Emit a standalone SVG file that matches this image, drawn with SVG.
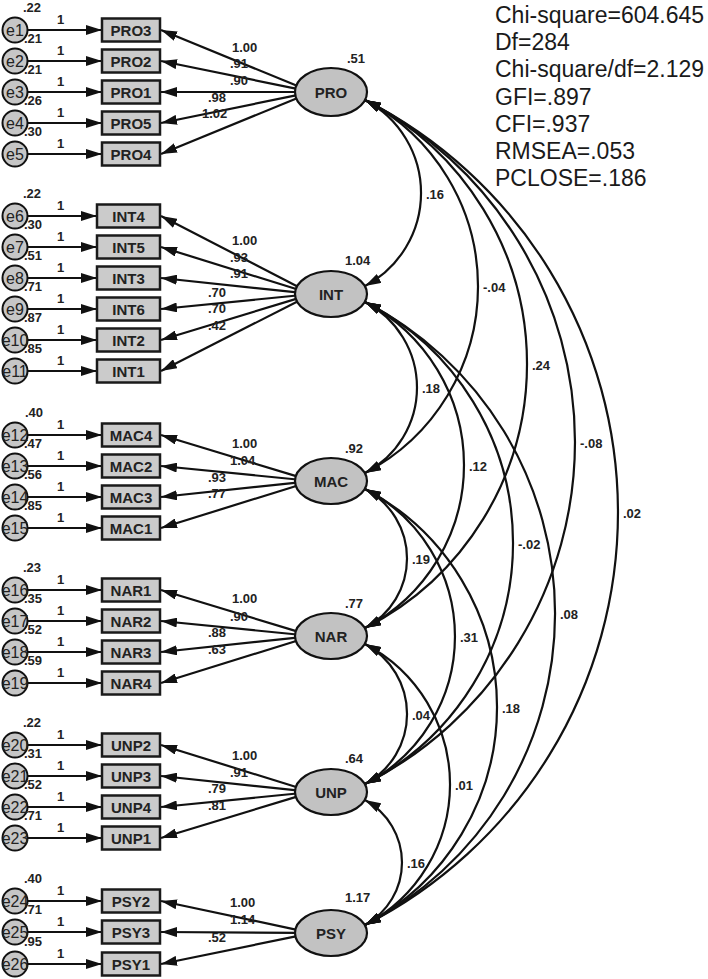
<svg xmlns="http://www.w3.org/2000/svg" width="708" height="979" viewBox="0 0 708 979">
<style>
.bg{fill:#fff}
.lat ellipse{fill:#c2c2c2;stroke:#111;stroke-width:2.2}
.obs rect{fill:#cbcbcb;stroke:#1a1a1a;stroke-width:2.5}
.err circle{fill:#c6c6c6;stroke:#111;stroke-width:2}
.nm{font-family:"Liberation Sans",Arial,sans-serif;font-size:15px;font-weight:bold;fill:#222;text-anchor:middle}
.en{font-family:"Liberation Sans",Arial,sans-serif;font-size:16px;fill:#222;text-anchor:middle}
.n{font-family:"Liberation Sans",Arial,sans-serif;font-size:13px;font-weight:bold;fill:#222}
.st{font-family:"Liberation Sans",Arial,sans-serif;font-size:23px;fill:#1a1a1a}
.c path,.c line{fill:none;stroke:#111;stroke-width:2.2}
.one{marker-end:url(#ah)}
.two{marker-start:url(#ah);marker-end:url(#ah)}
</style>
<defs>
<marker id="ah" viewBox="0 0 16 10" refX="16" refY="5" markerWidth="16" markerHeight="10" markerUnits="userSpaceOnUse" orient="auto-start-reverse"><path d="M0,0 L16,5 L0,10 z" fill="#111"/></marker>
</defs>
<rect class="bg" x="0" y="0" width="708" height="979"/>

<g id="connectors" class="c">
<!-- error arrows -->
<line class="one" x1="28" y1="30" x2="102" y2="30"/>
<line class="one" x1="28" y1="61" x2="102" y2="61"/>
<line class="one" x1="28" y1="92" x2="102" y2="92"/>
<line class="one" x1="28" y1="123" x2="102" y2="123"/>
<line class="one" x1="28" y1="154" x2="102" y2="154"/>
<line class="one" x1="28" y1="216" x2="97" y2="216"/>
<line class="one" x1="28" y1="247" x2="97" y2="247"/>
<line class="one" x1="28" y1="278" x2="97" y2="278"/>
<line class="one" x1="28" y1="309" x2="97" y2="309"/>
<line class="one" x1="28" y1="340" x2="97" y2="340"/>
<line class="one" x1="28" y1="371" x2="97" y2="371"/>
<line class="one" x1="28" y1="435" x2="102" y2="435"/>
<line class="one" x1="28" y1="466" x2="102" y2="466"/>
<line class="one" x1="28" y1="497" x2="102" y2="497"/>
<line class="one" x1="28" y1="528" x2="102" y2="528"/>
<line class="one" x1="28" y1="590" x2="102" y2="590"/>
<line class="one" x1="28" y1="621" x2="102" y2="621"/>
<line class="one" x1="28" y1="652" x2="102" y2="652"/>
<line class="one" x1="28" y1="683" x2="102" y2="683"/>
<line class="one" x1="28" y1="745" x2="102" y2="745"/>
<line class="one" x1="28" y1="776" x2="102" y2="776"/>
<line class="one" x1="28" y1="807" x2="102" y2="807"/>
<line class="one" x1="28" y1="838" x2="102" y2="838"/>
<line class="one" x1="28" y1="901" x2="102" y2="901"/>
<line class="one" x1="28" y1="932" x2="102" y2="932"/>
<line class="one" x1="28" y1="964" x2="102" y2="964"/>
<!-- loadings -->
<line class="one" x1="297" y1="85.8" x2="161" y2="30"/>
<line class="one" x1="297" y1="88.9" x2="161" y2="61"/>
<line class="one" x1="297" y1="92" x2="161" y2="92"/>
<line class="one" x1="297" y1="95.1" x2="161" y2="123"/>
<line class="one" x1="297" y1="98.2" x2="161" y2="154"/>
<line class="one" x1="297" y1="286.2" x2="161" y2="216"/>
<line class="one" x1="297" y1="289.3" x2="161" y2="247"/>
<line class="one" x1="297" y1="292.4" x2="161" y2="278"/>
<line class="one" x1="297" y1="295.5" x2="161" y2="309"/>
<line class="one" x1="297" y1="298.6" x2="161" y2="340"/>
<line class="one" x1="297" y1="301.7" x2="161" y2="371"/>
<line class="one" x1="297" y1="476.4" x2="161" y2="435"/>
<line class="one" x1="297" y1="479.5" x2="161" y2="466"/>
<line class="one" x1="297" y1="482.6" x2="161" y2="497"/>
<line class="one" x1="297" y1="485.7" x2="161" y2="528"/>
<line class="one" x1="297" y1="631.4" x2="161" y2="590"/>
<line class="one" x1="297" y1="634.5" x2="161" y2="621"/>
<line class="one" x1="297" y1="637.6" x2="161" y2="652"/>
<line class="one" x1="297" y1="640.7" x2="161" y2="683"/>
<line class="one" x1="297" y1="787.3" x2="161" y2="745"/>
<line class="one" x1="297" y1="790.4" x2="161" y2="776"/>
<line class="one" x1="297" y1="793.5" x2="161" y2="807"/>
<line class="one" x1="297" y1="796.6" x2="161" y2="838"/>
<line class="one" x1="297" y1="929.8" x2="161" y2="901"/>
<line class="one" x1="297" y1="932.9" x2="161" y2="932"/>
<line class="one" x1="297" y1="936.1" x2="161" y2="964"/>
<!-- covariances -->
<path class="two" d="M365,100 A105.2,105.2 0 0 1 365,286"/>
<path class="two" d="M365,100 A210.4,210.4 0 0 1 365,473"/>
<path class="two" d="M365,100 A296.1,296.1 0 0 1 365,628"/>
<path class="two" d="M365,100 A383.5,383.5 0 0 1 365,784"/>
<path class="two" d="M365,100 A462.8,462.8 0 0 1 365,925"/>
<path class="two" d="M365,302 A96.3,96.3 0 0 1 365,473"/>
<path class="two" d="M365,302 A183.7,183.7 0 0 1 365,628"/>
<path class="two" d="M365,302 A270.2,270.2 0 0 1 365,784"/>
<path class="two" d="M365,302 A350.3,350.3 0 0 1 365,925"/>
<path class="two" d="M365,489 A78.5,78.5 0 0 1 365,628"/>
<path class="two" d="M365,489 A165.9,165.9 0 0 1 365,784"/>
<path class="two" d="M365,489 A246,246 0 0 1 365,925"/>
<path class="two" d="M365,644 A79.3,79.3 0 0 1 365,784"/>
<path class="two" d="M365,644 A158.6,158.6 0 0 1 365,925"/>
<path class="two" d="M365,800 A71.3,71.3 0 0 1 365,925"/>
</g>

<g id="connector-labels" class="n">
<text x="57" y="24">1</text><text x="57" y="55">1</text><text x="57" y="86">1</text><text x="57" y="117">1</text><text x="57" y="148">1</text>
<text x="57" y="210">1</text><text x="57" y="241">1</text><text x="57" y="272">1</text><text x="57" y="303">1</text><text x="57" y="334">1</text><text x="57" y="365">1</text>
<text x="57" y="429">1</text><text x="57" y="460">1</text><text x="57" y="491">1</text><text x="57" y="522">1</text>
<text x="57" y="584">1</text><text x="57" y="615">1</text><text x="57" y="646">1</text><text x="57" y="677">1</text>
<text x="57" y="739">1</text><text x="57" y="770">1</text><text x="57" y="801">1</text><text x="57" y="832">1</text>
<text x="57" y="895">1</text><text x="57" y="926">1</text><text x="57" y="958">1</text>
<text x="232" y="52">1.00</text><text x="230" y="68">.91</text><text x="230" y="85">.90</text><text x="208" y="102">.98</text><text x="202" y="118">1.02</text>
<text x="232" y="245">1.00</text><text x="230" y="262">.93</text><text x="230" y="278">.91</text><text x="208" y="297">.70</text><text x="208" y="313">.70</text><text x="208" y="330">.42</text>
<text x="232" y="448">1.00</text><text x="230" y="465">1.04</text><text x="208" y="482">.93</text><text x="208" y="498">.77</text>
<text x="232" y="603">1.00</text><text x="230" y="621">.90</text><text x="208" y="637">.88</text><text x="208" y="654">.63</text>
<text x="232" y="760">1.00</text><text x="230" y="777">.91</text><text x="208" y="793">.79</text><text x="208" y="810">.81</text>
<text x="230" y="907">1.00</text><text x="230" y="924">1.14</text><text x="208" y="942">.52</text>
<text x="426" y="199">.16</text><text x="483" y="292">-.04</text><text x="532" y="370">.24</text><text x="580" y="448">-.08</text><text x="623" y="518">.02</text>
<text x="422" y="393">.18</text><text x="469" y="471">.12</text><text x="518" y="549">-.02</text><text x="560" y="619">.08</text>
<text x="412" y="564">.19</text><text x="460" y="642">.31</text><text x="502" y="713">.18</text>
<text x="412" y="720">.04</text><text x="455" y="790">.01</text>
<text x="407" y="868">.16</text>
</g>

<g id="PRO3" class="obs"><rect x="102" y="18.5" width="58" height="23"/><text class="nm" x="131" y="35.5">PRO3</text></g>
<g id="PRO2" class="obs"><rect x="102" y="49.5" width="58" height="23"/><text class="nm" x="131" y="66.5">PRO2</text></g>
<g id="PRO1" class="obs"><rect x="102" y="80.5" width="58" height="23"/><text class="nm" x="131" y="97.5">PRO1</text></g>
<g id="PRO5" class="obs"><rect x="102" y="111.5" width="58" height="23"/><text class="nm" x="131" y="128.5">PRO5</text></g>
<g id="PRO4" class="obs"><rect x="102" y="142.5" width="58" height="23"/><text class="nm" x="131" y="159.5">PRO4</text></g>
<g id="INT4" class="obs"><rect x="97" y="204.5" width="63" height="23"/><text class="nm" x="128.5" y="221.5">INT4</text></g>
<g id="INT5" class="obs"><rect x="97" y="235.5" width="63" height="23"/><text class="nm" x="128.5" y="252.5">INT5</text></g>
<g id="INT3" class="obs"><rect x="97" y="266.5" width="63" height="23"/><text class="nm" x="128.5" y="283.5">INT3</text></g>
<g id="INT6" class="obs"><rect x="97" y="297.5" width="63" height="23"/><text class="nm" x="128.5" y="314.5">INT6</text></g>
<g id="INT2" class="obs"><rect x="97" y="328.5" width="63" height="23"/><text class="nm" x="128.5" y="345.5">INT2</text></g>
<g id="INT1" class="obs"><rect x="97" y="359.5" width="63" height="23"/><text class="nm" x="128.5" y="376.5">INT1</text></g>
<g id="MAC4" class="obs"><rect x="102" y="423.5" width="58" height="23"/><text class="nm" x="131" y="440.5">MAC4</text></g>
<g id="MAC2" class="obs"><rect x="102" y="454.5" width="58" height="23"/><text class="nm" x="131" y="471.5">MAC2</text></g>
<g id="MAC3" class="obs"><rect x="102" y="485.5" width="58" height="23"/><text class="nm" x="131" y="502.5">MAC3</text></g>
<g id="MAC1" class="obs"><rect x="102" y="516.5" width="58" height="23"/><text class="nm" x="131" y="533.5">MAC1</text></g>
<g id="NAR1" class="obs"><rect x="102" y="578.5" width="58" height="23"/><text class="nm" x="131" y="595.5">NAR1</text></g>
<g id="NAR2" class="obs"><rect x="102" y="609.5" width="58" height="23"/><text class="nm" x="131" y="626.5">NAR2</text></g>
<g id="NAR3" class="obs"><rect x="102" y="640.5" width="58" height="23"/><text class="nm" x="131" y="657.5">NAR3</text></g>
<g id="NAR4" class="obs"><rect x="102" y="671.5" width="58" height="23"/><text class="nm" x="131" y="688.5">NAR4</text></g>
<g id="UNP2" class="obs"><rect x="102" y="733.5" width="58" height="23"/><text class="nm" x="131" y="750.5">UNP2</text></g>
<g id="UNP3" class="obs"><rect x="102" y="764.5" width="58" height="23"/><text class="nm" x="131" y="781.5">UNP3</text></g>
<g id="UNP4" class="obs"><rect x="102" y="795.5" width="58" height="23"/><text class="nm" x="131" y="812.5">UNP4</text></g>
<g id="UNP1" class="obs"><rect x="102" y="826.5" width="58" height="23"/><text class="nm" x="131" y="843.5">UNP1</text></g>
<g id="PSY2" class="obs"><rect x="102" y="889.5" width="58" height="23"/><text class="nm" x="131" y="906.5">PSY2</text></g>
<g id="PSY3" class="obs"><rect x="102" y="920.5" width="58" height="23"/><text class="nm" x="131" y="937.5">PSY3</text></g>
<g id="PSY1" class="obs"><rect x="102" y="952.5" width="58" height="23"/><text class="nm" x="131" y="969.5">PSY1</text></g>

<g id="PRO" class="lat"><ellipse cx="331" cy="92" rx="36" ry="24"/><text class="nm" x="331" y="97.5">PRO</text><text class="n" x="347" y="63">.51</text></g>
<g id="INT" class="lat"><ellipse cx="331" cy="294" rx="36" ry="23"/><text class="nm" x="331" y="299.5">INT</text><text class="n" x="345" y="265">1.04</text></g>
<g id="MAC" class="lat"><ellipse cx="331" cy="481" rx="36" ry="23"/><text class="nm" x="331" y="486.5">MAC</text><text class="n" x="345" y="453">.92</text></g>
<g id="NAR" class="lat"><ellipse cx="331" cy="636" rx="36" ry="23"/><text class="nm" x="331" y="641.5">NAR</text><text class="n" x="345" y="608">.77</text></g>
<g id="UNP" class="lat"><ellipse cx="331" cy="792" rx="36" ry="23"/><text class="nm" x="331" y="797.5">UNP</text><text class="n" x="345" y="763">.64</text></g>
<g id="PSY" class="lat"><ellipse cx="331" cy="933" rx="36" ry="23"/><text class="nm" x="331" y="938.5">PSY</text><text class="n" x="345" y="902">1.17</text></g>

<g id="e1" class="err"><circle cx="15" cy="30" r="12.5"/><text class="en" x="15" y="36">e1</text><text class="n" x="23" y="12">.22</text></g>
<g id="e2" class="err"><circle cx="15" cy="61" r="12.5"/><text class="en" x="15" y="67">e2</text><text class="n" x="24" y="43">.21</text></g>
<g id="e3" class="err"><circle cx="15" cy="92" r="12.5"/><text class="en" x="15" y="98">e3</text><text class="n" x="24" y="74">.21</text></g>
<g id="e4" class="err"><circle cx="15" cy="123" r="12.5"/><text class="en" x="15" y="129">e4</text><text class="n" x="24" y="105">.26</text></g>
<g id="e5" class="err"><circle cx="15" cy="154" r="12.5"/><text class="en" x="15" y="160">e5</text><text class="n" x="24" y="136">.30</text></g>
<g id="e6" class="err"><circle cx="15" cy="216" r="12.5"/><text class="en" x="15" y="222">e6</text><text class="n" x="23" y="198">.22</text></g>
<g id="e7" class="err"><circle cx="15" cy="247" r="12.5"/><text class="en" x="15" y="253">e7</text><text class="n" x="24" y="229">.30</text></g>
<g id="e8" class="err"><circle cx="15" cy="278" r="12.5"/><text class="en" x="15" y="284">e8</text><text class="n" x="24" y="260">.51</text></g>
<g id="e9" class="err"><circle cx="15" cy="309" r="12.5"/><text class="en" x="15" y="315">e9</text><text class="n" x="24" y="291">.71</text></g>
<g id="e10" class="err"><circle cx="15" cy="340" r="12.5"/><text class="en" x="15" y="346">e10</text><text class="n" x="24" y="322">.87</text></g>
<g id="e11" class="err"><circle cx="15" cy="371" r="12.5"/><text class="en" x="15" y="377">e11</text><text class="n" x="24" y="353">.85</text></g>
<g id="e12" class="err"><circle cx="15" cy="435" r="12.5"/><text class="en" x="15" y="441">e12</text><text class="n" x="25" y="417">.40</text></g>
<g id="e13" class="err"><circle cx="15" cy="466" r="12.5"/><text class="en" x="15" y="472">e13</text><text class="n" x="24" y="448">.47</text></g>
<g id="e14" class="err"><circle cx="15" cy="497" r="12.5"/><text class="en" x="15" y="503">e14</text><text class="n" x="24" y="479">.56</text></g>
<g id="e15" class="err"><circle cx="15" cy="528" r="12.5"/><text class="en" x="15" y="534">e15</text><text class="n" x="24" y="510">.85</text></g>
<g id="e16" class="err"><circle cx="15" cy="590" r="12.5"/><text class="en" x="15" y="596">e16</text><text class="n" x="23" y="572">.23</text></g>
<g id="e17" class="err"><circle cx="15" cy="621" r="12.5"/><text class="en" x="15" y="627">e17</text><text class="n" x="24" y="603">.35</text></g>
<g id="e18" class="err"><circle cx="15" cy="652" r="12.5"/><text class="en" x="15" y="658">e18</text><text class="n" x="24" y="634">.52</text></g>
<g id="e19" class="err"><circle cx="15" cy="683" r="12.5"/><text class="en" x="15" y="689">e19</text><text class="n" x="24" y="665">.59</text></g>
<g id="e20" class="err"><circle cx="15" cy="745" r="12.5"/><text class="en" x="15" y="751">e20</text><text class="n" x="23" y="727">.22</text></g>
<g id="e21" class="err"><circle cx="15" cy="776" r="12.5"/><text class="en" x="15" y="782">e21</text><text class="n" x="24" y="758">.31</text></g>
<g id="e22" class="err"><circle cx="15" cy="807" r="12.5"/><text class="en" x="15" y="813">e22</text><text class="n" x="24" y="789">.52</text></g>
<g id="e23" class="err"><circle cx="15" cy="838" r="12.5"/><text class="en" x="15" y="844">e23</text><text class="n" x="24" y="820">.71</text></g>
<g id="e24" class="err"><circle cx="15" cy="901" r="12.5"/><text class="en" x="15" y="907">e24</text><text class="n" x="24" y="883">.40</text></g>
<g id="e25" class="err"><circle cx="15" cy="932" r="12.5"/><text class="en" x="15" y="938">e25</text><text class="n" x="24" y="914">.71</text></g>
<g id="e26" class="err"><circle cx="15" cy="964" r="12.5"/><text class="en" x="15" y="970">e26</text><text class="n" x="24" y="946">.95</text></g>

<g id="fit-stats" class="st">
<text x="495" y="23">Chi-square=604.645</text>
<text x="495" y="50">Df=284</text>
<text x="495" y="77">Chi-square/df=2.129</text>
<text x="495" y="104.5">GFI=.897</text>
<text x="495" y="132">CFI=.937</text>
<text x="495" y="159">RMSEA=.053</text>
<text x="495" y="186">PCLOSE=.186</text>
</g>
</svg>
